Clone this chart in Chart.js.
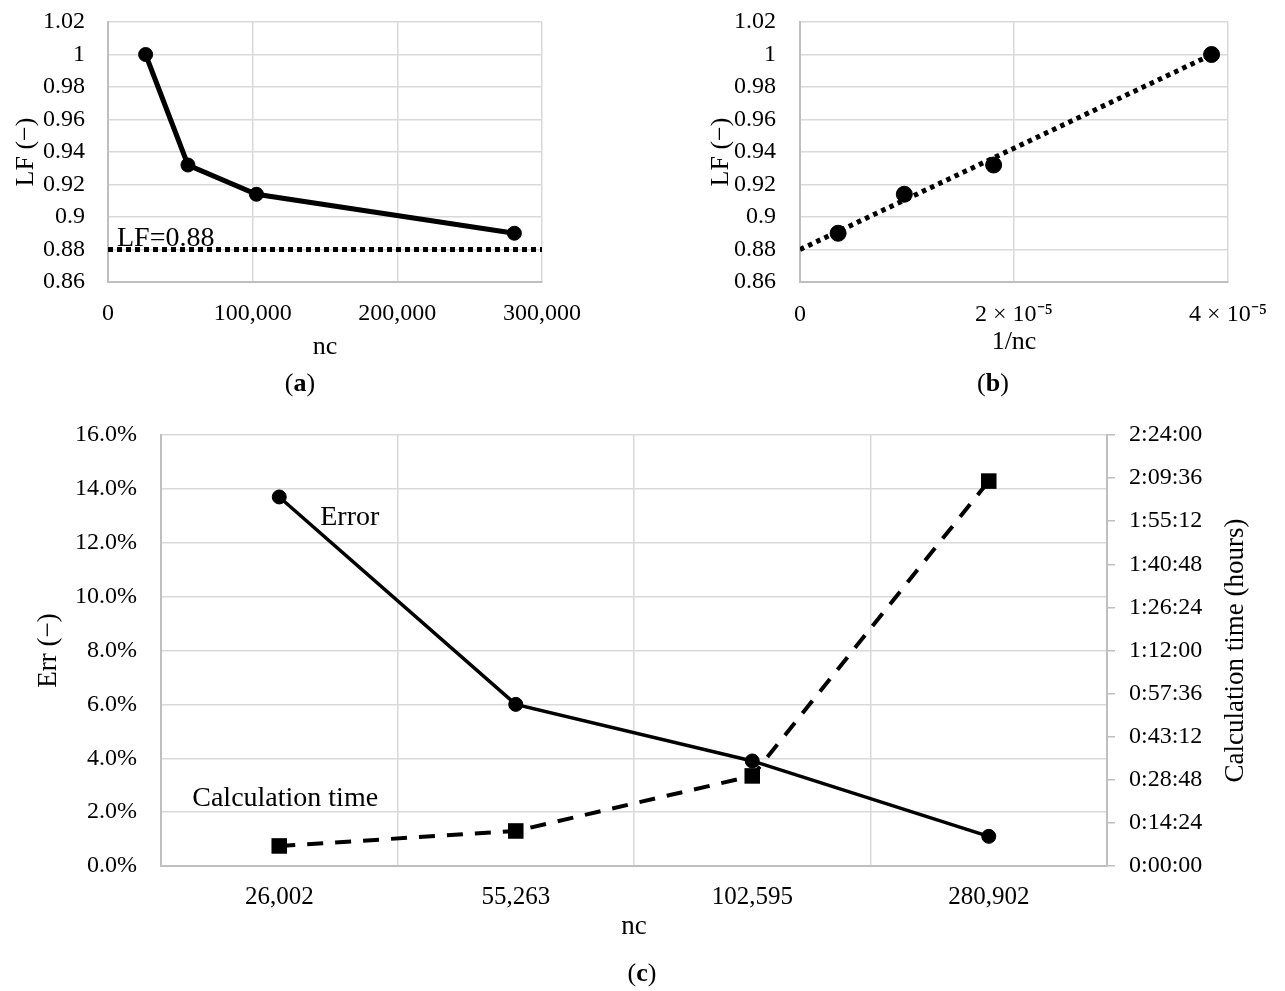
<!DOCTYPE html>
<html>
<head>
<meta charset="utf-8">
<script src="https://cdn.jsdelivr.net/npm/chart.js@4.4.1/dist/chart.umd.min.js"></script>
<style>
  html, body { margin: 0; padding: 0; background: #fff; }
  body { width: 1285px; height: 991px; position: relative; overflow: hidden; font-family: 'Liberation Serif', 'Times New Roman', serif; }
  canvas { position: absolute; }
  .cap { position: absolute; font-size: 26px; color: #000; transform: translate(-50%, -50%); white-space: nowrap; }
</style>
</head>
<body>
<canvas id="ca" width="600" height="370" style="left:0;top:0;width:600px;height:370px"></canvas>
<canvas id="cb" width="605" height="370" style="left:680px;top:0;width:605px;height:370px"></canvas>
<canvas id="cc" width="1285" height="591" style="left:0;top:400px;width:1285px;height:591px"></canvas>
<div class="cap" style="left:300px;top:383px">(<b>a</b>)</div>
<div class="cap" style="left:993px;top:383px">(<b>b</b>)</div>
<div class="cap" style="left:642px;top:973px">(<b>c</b>)</div>
<script>
// ---------------- DATA ----------------
const NC = [26002, 55263, 102595, 280902];
const LF = [1.000, 0.932, 0.914, 0.890];
const LF_LIMIT = 0.88;
const TREND_B_X = [0, 3.85e-5];
const TREND_B_Y = [0.880, 1.000];
const NC_LABELS = ['26,002', '55,263', '102,595', '280,902'];
const ERR = [0.137, 0.060, 0.039, 0.011];             // fraction
const CALC_TIME_MIN = [6.7, 11.7, 30.1, 128.6];       // minutes
const AXIS_A_X = [0, 300000];
const AXIS_B_X = [0, 4e-5];
const AXIS_LF = [0.86, 1.02];

// ---------------- STYLE ----------------
const FONT = "'Liberation Serif', 'Times New Roman', serif";
Chart.defaults.font.family = FONT;
Chart.defaults.color = '#000';
const GRID = '#d9d9d9';
const BORDER = '#bfbfbf';
const CLEAR = 'rgba(0,0,0,0)';

function fixW(w) { return function (s) { s.width = w; }; }
function fixH(h) { return function (s) { s.height = h; }; }
function lfFmt(v) { return String(Number(v.toFixed(2))); }
function hms(min) {
  const s = Math.round(min * 60);
  const h = Math.floor(s / 3600), m = Math.floor((s % 3600) / 60), sec = s % 60;
  return h + ':' + String(m).padStart(2, '0') + ':' + String(sec).padStart(2, '0');
}
const baseOpts = {
  responsive: false, animation: false, devicePixelRatio: 1,
  plugins: { legend: { display: false }, tooltip: { enabled: false } }
};

// ---------------- CHART (a) ----------------
const annotA = {
  id: 'annotA',
  afterDatasetsDraw(chart) {
    const ctx = chart.ctx, y = chart.scales.y.getPixelForValue(LF_LIMIT);
    ctx.save();
    ctx.font = '28px ' + FONT; ctx.fillStyle = '#000';
    ctx.textAlign = 'left'; ctx.textBaseline = 'alphabetic';
    ctx.fillText('LF=0.88', chart.chartArea.left + 9, y - 4);
    ctx.restore();
  }
};
new Chart(document.getElementById('ca'), {
  type: 'scatter',
  data: {
    datasets: [
      {
        data: NC.map((x, i) => ({ x: x, y: LF[i] })),
        showLine: true, borderColor: '#000', borderWidth: 5,
        pointRadius: 7, pointBackgroundColor: '#000', pointBorderColor: '#000', pointBorderWidth: 1
      },
      {
        data: AXIS_A_X.map(x => ({ x: x, y: LF_LIMIT })),
        showLine: true, borderColor: '#000', borderWidth: 5, borderDash: [5, 4],
        pointRadius: 0, borderCapStyle: 'butt'
      }
    ]
  },
  options: Object.assign({}, baseOpts, {
    layout: { padding: { left: 0, top: 22, right: 58, bottom: 0 } },
    scales: {
      x: {
        type: 'linear', min: AXIS_A_X[0], max: AXIS_A_X[1],
        afterFit: fixH(88),
        ticks: { stepSize: 100000, padding: 17, font: { size: 24 }, callback: v => v.toLocaleString('en-US') },
        grid: { color: GRID, lineWidth: 1.5, drawTicks: false },
        border: { color: BORDER, width: 2 },
        title: { display: true, text: 'nc', font: { size: 26 }, padding: { top: 0, bottom: 7 } }
      },
      y: {
        min: AXIS_LF[0], max: AXIS_LF[1],
        afterFit: fixW(108),
        ticks: { stepSize: 0.02, autoSkip: false, padding: 0, font: { size: 24 }, callback: lfFmt },
        grid: { color: GRID, lineWidth: 1.5, drawTicks: true, tickLength: 23, tickColor: CLEAR },
        border: { color: BORDER, width: 2 },
        title: { display: true, text: 'LF (\u2212)', font: { size: 26 }, padding: { top: 11, bottom: 0 } }
      }
    }
  }),
  plugins: [annotA]
});

// ---------------- CHART (b) ----------------
const SUP = { '0': '\u2070', '1': '\u00b9', '2': '\u00b2', '3': '\u00b3', '4': '\u2074', '5': '\u2075', '-': '\u207b' };
function sciFmt(v) {
  if (Math.abs(v) < 1e-12) return '0';
  const m = Math.round(v / 1e-5);
  return m + ' \u00d7 10' + '-5'.split('').map(c => SUP[c]).join('');
}
new Chart(document.getElementById('cb'), {
  type: 'scatter',
  data: {
    datasets: [
      {
        data: NC.map((n, i) => ({ x: 1 / n, y: LF[i] })),
        showLine: false,
        pointRadius: 8, pointBackgroundColor: '#000', pointBorderColor: '#000', pointBorderWidth: 1
      },
      {
        data: TREND_B_X.map((x, i) => ({ x: x, y: TREND_B_Y[i] })),
        showLine: true, borderColor: '#000', borderWidth: 5, borderDash: [4.5, 4.5],
        pointRadius: 0, borderCapStyle: 'butt'
      }
    ]
  },
  options: Object.assign({}, baseOpts, {
    layout: { padding: { left: 0, top: 22, right: 53, bottom: 0 } },
    scales: {
      x: {
        type: 'linear', min: AXIS_B_X[0], max: AXIS_B_X[1],
        afterFit: fixH(88),
        ticks: { stepSize: 2e-5, padding: 18, font: { size: 24 }, callback: sciFmt },
        grid: { color: GRID, lineWidth: 1.5, drawTicks: false },
        border: { color: BORDER, width: 2 },
        title: { display: true, text: '1/nc', font: { size: 26 }, padding: { top: 0, bottom: 12 } }
      },
      y: {
        min: AXIS_LF[0], max: AXIS_LF[1],
        afterFit: fixW(120),
        ticks: { stepSize: 0.02, autoSkip: false, padding: 0, font: { size: 24 }, callback: lfFmt },
        grid: { color: GRID, lineWidth: 1.5, drawTicks: true, tickLength: 24, tickColor: CLEAR },
        border: { color: BORDER, width: 2 },
        title: { display: true, text: 'LF (\u2212)', font: { size: 26 }, padding: { top: 26, bottom: 0 } }
      }
    }
  })
});

// ---------------- CHART (c) ----------------
const annotC = {
  id: 'annotC',
  afterDraw(chart) {
    const ctx = chart.ctx, ca = chart.chartArea;
    const x0 = chart.scales.x.getPixelForValue(0);
    ctx.save();
    ctx.fillStyle = '#000';
    ctx.font = '28px ' + FONT;
    ctx.textAlign = 'left'; ctx.textBaseline = 'middle';
    ctx.fillText('Error', x0 + 41, chart.scales.y.getPixelForValue(ERR[0]) + 21);
    ctx.fillText('Calculation time', x0 - 87, chart.scales.y2.getPixelForValue(CALC_TIME_MIN[0]) - 47);
    // right axis title, reading bottom to top
    ctx.font = '27px ' + FONT;
    ctx.textAlign = 'center';
    ctx.translate(1236, (ca.top + ca.bottom) / 2);
    ctx.rotate(-Math.PI / 2);
    ctx.fillText('Calculation time (hours)', 0, 0);
    ctx.restore();
  }
};
new Chart(document.getElementById('cc'), {
  type: 'line',
  data: {
    labels: NC_LABELS,
    datasets: [
      {
        label: 'Error', data: ERR, yAxisID: 'y',
        borderColor: '#000', borderWidth: 3.5,
        pointStyle: 'circle', pointRadius: 7, pointBackgroundColor: '#000', pointBorderColor: '#000', pointBorderWidth: 1
      },
      {
        label: 'Calculation time', data: CALC_TIME_MIN, yAxisID: 'y2',
        borderColor: '#000', borderWidth: 4, borderDash: [16, 12],
        pointStyle: 'rect', pointRadius: 11, pointBackgroundColor: '#000', pointBorderColor: '#000', pointBorderWidth: 0
      }
    ]
  },
  options: Object.assign({}, baseOpts, {
    layout: { padding: { left: 0, top: 35, right: 0, bottom: 0 } },
    scales: {
      x: {
        offset: true,
        afterFit: fixH(125),
        ticks: { padding: 16, font: { size: 25 } },
        grid: { offset: true, color: GRID, lineWidth: 1.5, drawTicks: false },
        border: { color: BORDER, width: 2 },
        title: { display: true, text: 'nc', font: { size: 27 }, padding: { top: 0, bottom: 48 } }
      },
      y: {
        position: 'left', min: 0, max: 0.16,
        afterFit: fixW(161),
        ticks: { stepSize: 0.02, autoSkip: false, padding: 0, font: { size: 24 }, callback: v => (v * 100).toFixed(1) + '%' },
        grid: { color: GRID, lineWidth: 1.5, drawTicks: true, tickLength: 24, tickColor: CLEAR },
        border: { color: BORDER, width: 2 },
        title: { display: true, text: 'Err (\u2212)', font: { size: 27 }, padding: { top: 33, bottom: 0 } }
      },
      y2: {
        position: 'right', min: 0, max: 144,
        afterFit: fixW(178),
        ticks: { stepSize: 14.4, autoSkip: false, padding: 14, font: { size: 24 }, callback: hms },
        grid: { drawOnChartArea: false, drawTicks: true, tickLength: 8, color: BORDER, lineWidth: 1.5 },
        border: { color: BORDER, width: 2 }
      }
    }
  }),
  plugins: [annotC]
});
</script>
</body>
</html>
